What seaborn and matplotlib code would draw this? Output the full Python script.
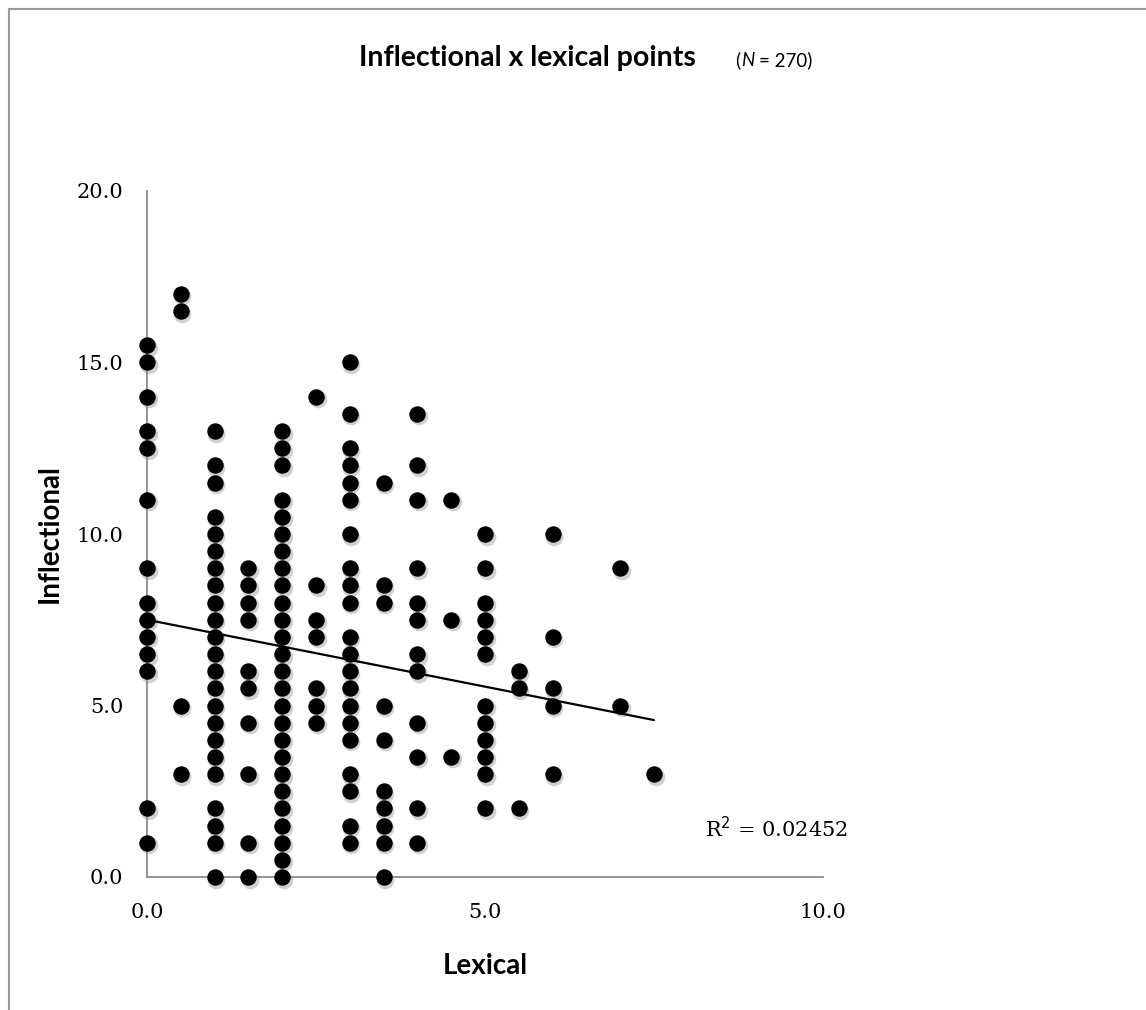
import matplotlib
matplotlib.use("Agg")
import matplotlib.pyplot as plt
import matplotlib.transforms as mtransforms
from matplotlib.patches import Rectangle
import seaborn as sns
import pandas as pd
import numpy as np

# ---- data ----
lex_0 = [15.5, 15, 14, 13, 12.5, 11, 9, 8, 7.5, 7, 6.5, 6, 2, 1]
lex_05 = [17, 16.5, 5, 3]
lex_1 = [13, 12, 11.5, 10.5, 10, 9.5, 9, 8.5, 8, 7.5, 7, 6.5, 6, 5.5, 5, 4.5, 4, 3.5, 3, 2, 1.5, 1, 0]
lex_15 = [9, 8.5, 8, 7.5, 6, 5.5, 4.5, 3, 1, 0]
lex_2 = [13, 12.5, 12, 11, 10.5, 10, 9.5, 9, 8.5, 8, 7.5, 7, 6.5, 6, 5.5, 5, 4.5, 4, 3.5, 3, 2.5, 2, 1.5, 1, 0.5, 0]
lex_25 = [14, 8.5, 7.5, 7, 5.5, 5, 4.5]
lex_3 = [15, 13.5, 12.5, 12, 11.5, 11, 10, 9, 8.5, 8, 7, 6.5, 6, 5.5, 5, 4.5, 4, 3, 2.5, 1.5, 1]
lex_35 = [11.5, 8.5, 8, 5, 4, 2.5, 2, 1.5, 1, 0]
lex_4 = [13.5, 12, 11, 9, 8, 7.5, 6.5, 6, 4.5, 3.5, 2, 1]
lex_45 = [11, 7.5, 3.5]
lex_5 = [10, 9, 8, 7.5, 7, 6.5, 5, 4.5, 4, 3.5, 3, 2]
lex_55 = [6, 5.5, 2]
lex_6 = [10, 7, 5.5, 5, 3]
lex_7 = [9, 5]
lex_75 = [3]

columns = {0.0: lex_0, 0.5: lex_05, 1.0: lex_1, 1.5: lex_15, 2.0: lex_2, 2.5: lex_25,
           3.0: lex_3, 3.5: lex_35, 4.0: lex_4, 4.5: lex_45, 5.0: lex_5, 5.5: lex_55,
           6.0: lex_6, 7.0: lex_7, 7.5: lex_75}

trend_intercept = 7.5
trend_slope = -0.39
trend_x = [0.0, 7.5]
r2_label = "R$^2$ = 0.02452"

x_ticks = [0, 5, 10]
x_ticklabels = ["0.0", "5.0", "10.0"]
y_ticks = [0, 5, 10, 15, 20]
y_ticklabels = ["0.0", "5.0", "10.0", "15.0", "20.0"]

rows = [(x, y) for x, ys in columns.items() for y in ys]
df = pd.DataFrame(rows, columns=["Lexical", "Inflectional"])

# ---- figure ----
sns.set_style("white")
plt.rcParams["text.color"] = "black"
plt.rcParams["axes.labelcolor"] = "black"
plt.rcParams["xtick.color"] = "black"
plt.rcParams["ytick.color"] = "black"
fig = plt.figure(figsize=(11.46, 10.10), dpi=100)
ax = fig.add_axes([147/1146, 1-877/1010, (823-147)/1146, (877-191)/1010])

# shadow
shadow_tr = mtransforms.offset_copy(ax.transData, fig=fig, x=1.5, y=-2.5, units="dots")
ax.scatter(df["Lexical"], df["Inflectional"], s=160, color="#9a9a9a", alpha=0.45,
           linewidths=0, transform=shadow_tr, zorder=2, clip_on=False)
sns.scatterplot(data=df, x="Lexical", y="Inflectional", ax=ax, s=140, color="black",
                edgecolor="black", linewidth=0, zorder=3, clip_on=False, legend=False)

tx = np.array(trend_x)
ax.plot(tx, trend_intercept + trend_slope * tx, color="black", lw=1.6, zorder=4)

ax.set_xlim(0, 10)
ax.set_ylim(0, 20)
ax.set_xticks(x_ticks)
ax.set_xticklabels(x_ticklabels, family="DejaVu Serif", fontsize=15)
ax.set_yticks(y_ticks)
ax.set_yticklabels(y_ticklabels, family="DejaVu Serif", fontsize=15)
ax.tick_params(axis="both", direction="out", length=9, width=1.2, color="#8c8c8c", labelcolor="black")
ax.tick_params(axis="x", pad=10)
ax.tick_params(axis="y", pad=8)
for side in ["top", "right"]:
    ax.spines[side].set_visible(False)
for side in ["left", "bottom"]:
    ax.spines[side].set_color("#8c8c8c")
    ax.spines[side].set_linewidth(1.3)

ax.set_xlabel("Lexical", fontsize=20, fontweight="bold", family="Lato", labelpad=22, color="black")
ax.set_ylabel("Inflectional", fontsize=20, fontweight="bold", family="Lato", labelpad=10, color="black")

ax.text(8.25, 1.4, r2_label, fontsize=15, family="DejaVu Serif", ha="left", va="center", color="black")

fig.text(527/1146, 1-58/1010, "Inflectional x lexical points", fontsize=20.5, fontweight="bold",
         family="Lato", ha="center", va="center", color="black")
fig.text(735/1146, 1-60/1010, "(", fontsize=13.5, family="Lato", ha="left", va="center")
fig.text(741/1146, 1-60/1010, "N", fontsize=13.5, family="Lato", style="italic", ha="left", va="center")
fig.text(759/1146, 1-60/1010, "= 270)", fontsize=13.5, family="Lato", ha="left", va="center")

fig.patches.append(Rectangle((9/1146, -0.1), 1.2, 1 - 9/1010 + 0.1, transform=fig.transFigure,
                             fill=False, edgecolor="#9a9a9a", lw=1.5))

fig.savefig("out.png", dpi=100)
